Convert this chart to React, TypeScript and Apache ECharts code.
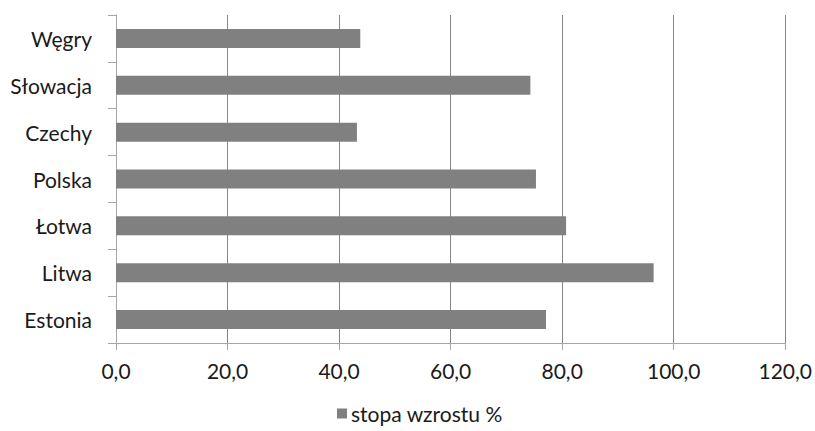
import React, { useEffect, useRef } from "react";
import * as echarts from "echarts";

const categories = ["Estonia", "Litwa", "Łotwa", "Polska", "Czechy", "Słowacja", "Węgry"];
const values = [77.1, 96.4, 80.7, 75.3, 43.2, 74.3, 43.8];
const seriesName = "stopa wzrostu %";
const xMin = 0;
const xMax = 120;
const xStep = 20;

const FONT = "Lato";

export default function App() {
  const ref = useRef<HTMLDivElement>(null);
  useEffect(() => {
    if (!ref.current) return;
    const chart = echarts.init(ref.current, undefined, { renderer: "svg" });
    chart.setOption({
      animation: false,
      backgroundColor: "#ffffff",
      textStyle: { fontFamily: FONT },
      grid: { left: 116, right: 28, top: 15, bottom: 88 },
      legend: {
        show: true,
        top: 403,
        left: 337,
        padding: 0,
        itemWidth: 10,
        itemHeight: 10,
        itemGap: 10,
        icon: "rect",
        textStyle: { fontFamily: FONT, fontSize: 21, color: "#1a1a1a", padding: [0, 0, 0, -1] },
        data: [seriesName],
      },
      xAxis: {
        type: "value",
        min: xMin,
        max: xMax,
        interval: xStep,
        axisLine: { show: true, lineStyle: { color: "#a6a6a6", width: 1 } },
        axisTick: { show: true, length: 7, lineStyle: { color: "#a6a6a6" } },
        splitLine: { show: true, lineStyle: { color: "#878787", width: 1 } },
        axisLabel: {
          margin: 17,
          fontFamily: FONT,
          fontSize: 21,
          color: "#1a1a1a",
          formatter: (v: number) => v.toFixed(1).replace(".", ","),
        },
      },
      yAxis: {
        type: "category",
        data: categories,
        axisLine: { show: true, lineStyle: { color: "#a6a6a6", width: 1 } },
        axisTick: { show: true, length: 8, lineStyle: { color: "#a6a6a6" } },
        splitLine: { show: false },
        axisLabel: {
          margin: 24,
          fontFamily: FONT,
          fontSize: 21,
          color: "#1a1a1a",
        },
      },
      series: [
        {
          name: seriesName,
          type: "bar",
          data: values,
          barWidth: 19,
          itemStyle: { color: "#808080" },
        },
      ],
    });
    return () => chart.dispose();
  }, []);
  return (
    <div
      ref={ref}
      style={{ position: "fixed", left: 0, top: 0, width: 815, height: 431 }}
    />
  );
}
